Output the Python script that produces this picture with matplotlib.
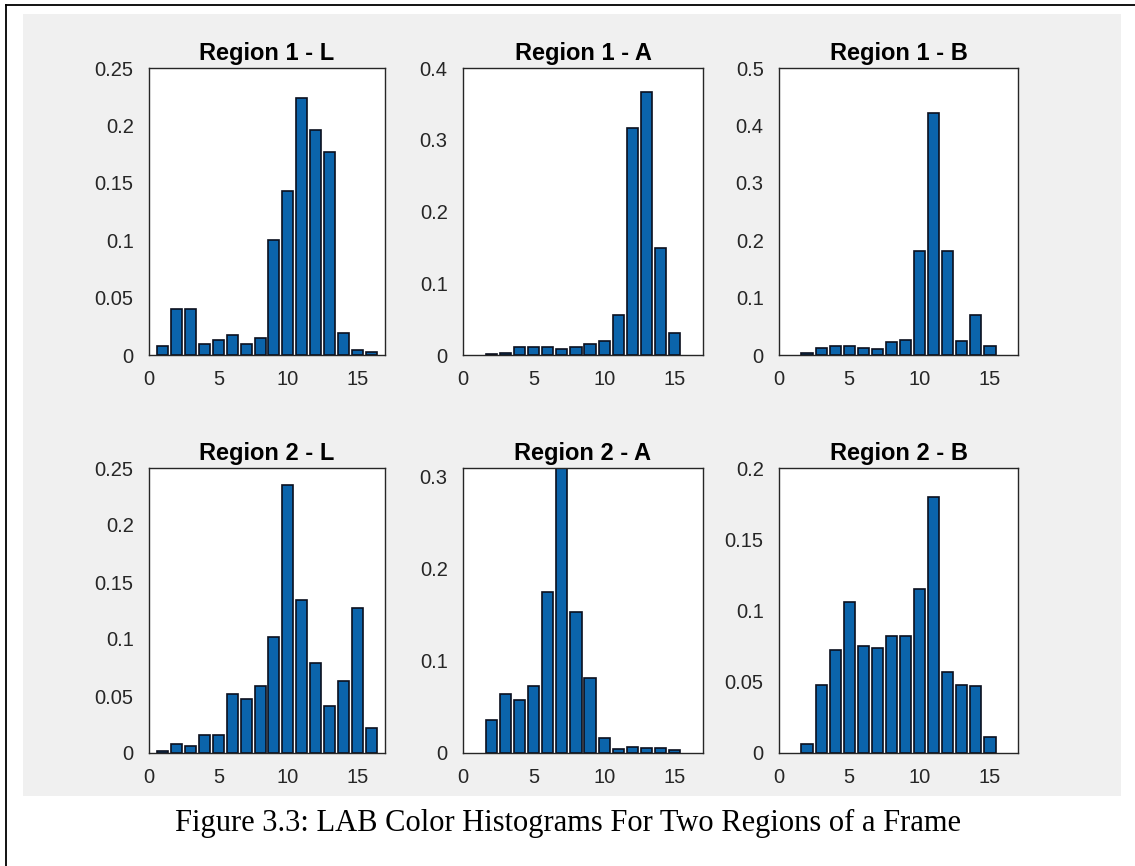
import numpy as np
import matplotlib.pyplot as plt
from matplotlib.lines import Line2D
from matplotlib.patches import Rectangle
from matplotlib.ticker import FuncFormatter

# --- Data: bin index and normalised counts per channel ---
BINS = np.arange(1, 17)

R1_L = [0.008, 0.040, 0.040, 0.010, 0.013, 0.017, 0.010, 0.015,
        0.100, 0.143, 0.224, 0.196, 0.177, 0.019, 0.004, 0.003]
R1_A = [0.0, 0.002, 0.003, 0.011, 0.011, 0.011, 0.008, 0.011,
        0.016, 0.019, 0.056, 0.316, 0.366, 0.149, 0.031, 0.0]
R1_B = [0.0, 0.003, 0.013, 0.016, 0.016, 0.013, 0.010, 0.023,
        0.027, 0.181, 0.421, 0.181, 0.024, 0.069, 0.016, 0.0]
R2_L = [0.002, 0.008, 0.006, 0.016, 0.016, 0.052, 0.047, 0.059,
        0.102, 0.235, 0.134, 0.079, 0.041, 0.063, 0.127, 0.022]
R2_A = [0.0, 0.036, 0.064, 0.058, 0.073, 0.175, 0.309, 0.153,
        0.081, 0.016, 0.004, 0.006, 0.005, 0.005, 0.003, 0.0]
R2_B = [0.0, 0.006, 0.048, 0.072, 0.106, 0.075, 0.074, 0.082,
        0.082, 0.115, 0.180, 0.057, 0.048, 0.047, 0.011, 0.0]

TITLES = ["Region 1 - L", "Region 1 - A", "Region 1 - B",
          "Region 2 - L", "Region 2 - A", "Region 2 - B"]
SERIES = [R1_L, R1_A, R1_B, R2_L, R2_A, R2_B]
YMAX = [0.25, 0.4, 0.5, 0.25, 0.309, 0.2]
YSTEP = [0.05, 0.1, 0.1, 0.05, 0.1, 0.05]

CAPTION = "Figure 3.3: LAB Color Histograms For Two Regions of a Frame"

# --- Layout (pixels) ---
W, H = 1135, 866
COLS = [(149, 385), (463, 703), (779, 1018)]
ROWS = [(68, 355), (468, 753)]
BAR_COLOR = "#0b64ab"
AX_COLOR = "#262626"

plt.rcParams['font.family'] = ['Liberation Sans', 'DejaVu Sans']

fig = plt.figure(figsize=(W / 100, H / 100), dpi=100)
fig.patch.set_facecolor("white")

# grey MATLAB figure background and page frame
fig.add_artist(Rectangle((23 / W, 1 - 796 / H), (1121 - 23) / W, (796 - 14) / H,
                         transform=fig.transFigure, facecolor="#f0f0f0",
                         edgecolor="none", zorder=0))
fig.add_artist(Line2D([6 / W, 1], [1 - 5 / H, 1 - 5 / H], color="black", lw=1.3))
fig.add_artist(Line2D([6 / W, 6 / W], [0, 1 - 5 / H], color="black", lw=1.3))

fmt = FuncFormatter(lambda v, _: f"{v:g}")

for i, (vals, title) in enumerate(zip(SERIES, TITLES)):
    r, c = divmod(i, 3)
    x0, x1 = COLS[c]
    y0, y1 = ROWS[r]
    ax = fig.add_axes([x0 / W, 1 - y1 / H, (x1 - x0) / W, (y1 - y0) / H])
    ax.set_facecolor("white")
    vals = np.asarray(vals)
    keep = vals > 0  # empty bins draw nothing
    ax.bar(BINS[keep], vals[keep], width=0.8, color=BAR_COLOR,
           edgecolor="#0a0f1e", linewidth=1.2, zorder=2)
    ax.set_xlim(0, 17)
    ax.set_ylim(0, YMAX[i])
    ax.set_xticks([0, 5, 10, 15])
    ax.set_yticks(np.arange(0, YMAX[i] + 1e-9, YSTEP[i]))
    ax.yaxis.set_major_formatter(fmt)
    ax.tick_params(length=0, colors=AX_COLOR, labelsize=14.5)
    ax.tick_params(axis="y", pad=11)
    ax.tick_params(axis="x", pad=11)
    for s in ax.spines.values():
        s.set_color(AX_COLOR)
        s.set_linewidth(1.0)
    ax.set_title(title, fontsize=17, fontweight="bold", color="black", pad=6)

fig.text(568 / W, 1 - 823 / H, CAPTION, ha="center", va="center",
         fontsize=22, family=["Liberation Serif", "DejaVu Serif"], color="black")

fig.savefig("out.png", dpi=100)
